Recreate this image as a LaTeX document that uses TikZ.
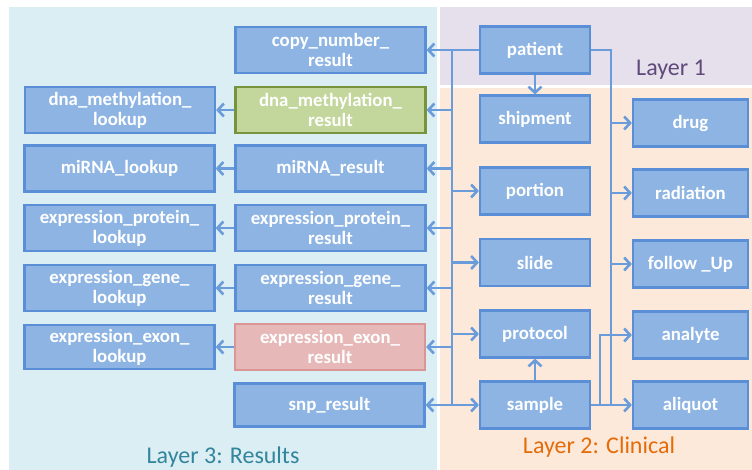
\documentclass[tikz,border=0pt]{standalone}
\usepackage{fontspec}
\setmainfont{Carlito}
\usetikzlibrary{arrows.meta}
\definecolor{bgthree}{HTML}{DBEEF4}
\definecolor{bgone}{HTML}{E5E0EC}
\definecolor{bgtwo}{HTML}{FDE9D9}
\definecolor{boxfill}{HTML}{8DB4E2}
\definecolor{boxline}{HTML}{5A8FD8}
\definecolor{conn}{HTML}{6A9CDC}
\definecolor{greenfill}{HTML}{C3D69B}
\definecolor{greenline}{HTML}{77933C}
\definecolor{redfill}{HTML}{E6B9B8}
\definecolor{redline}{HTML}{D99694}
\definecolor{txtone}{HTML}{5F497A}
\definecolor{txttwo}{HTML}{E46C0A}
\definecolor{txtthree}{HTML}{31859C}
\tikzset{
  tbl/.style={draw=boxline, fill=boxfill, line width=2.2pt, text=white,
    font=\bfseries\fontsize{18.8}{20}\selectfont, align=center, inner sep=0pt,
    minimum width=190pt, minimum height=46pt},
  clin/.style={tbl, minimum width=110pt, minimum height=47pt},
  ext/.style={tbl, minimum width=115pt, minimum height=47pt},
  greenbox/.style={draw=greenline, fill=greenfill},
  redbox/.style={draw=redline, fill=redfill},
  conline/.style={draw=conn, line width=2.6pt},
  arr/.style={conline, -{Straight Barb[length=6pt,width=13pt,line width=2.6pt]}},
  layerlabel/.style={font=\fontsize{24}{26}\selectfont, inner sep=0pt}
}
\begin{document}
\begin{tikzpicture}[x=1pt,y=-1pt]
\useasboundingbox (0,0) rectangle (752,470);
\fill[white] (0,0) rectangle (752,470);
\fill[bgthree] (9,7) rectangle (437,470);
\fill[bgone] (440,7) rectangle (752,85);
\fill[bgtwo] (440,88) rectangle (752,470);

\node[layerlabel, text=txtone] (l1) at (671,70) {Layer 1};
\node[layerlabel, text=txttwo] (l2) at (599,447) {Layer 2: Clinical};
\node[layerlabel, text=txtthree] (l3) at (223,457) {Layer 3: Results};

% results column
\node[tbl] (copyres) at (330.5,50) {copy\_number\_\\result};
\node[tbl, greenbox] (dnares) at (330.5,110) {dna\_methylation\_\\result};
\node[tbl] (mirnares) at (330.5,168.5) {miRNA\_result};
\node[tbl] (protres) at (330.5,228) {expression\_protein\_\\result};
\node[tbl] (generes) at (330.5,288) {expression\_gene\_\\result};
\node[tbl, redbox] (exonres) at (330,347) {expression\_exon\_\\result};
\node[tbl, minimum height=43pt] (snpres) at (329.5,405) {snp\_result};

% lookup column
\node[tbl] (dnalook) at (120,110) {dna\_methylation\_\\lookup};
\node[tbl] (mirnalook) at (119.5,168.5) {miRNA\_lookup};
\node[tbl] (protlook) at (119.5,228) {expression\_protein\_\\lookup};
\node[tbl] (genelook) at (119.5,288) {expression\_gene\_\\lookup};
\node[tbl, minimum height=44pt] (exonlook) at (119.5,347) {expression\_exon\_\\lookup};

% clinical
\node[clin] (patient) at (535,50) {patient};
\node[clin] (shipment) at (535,119) {shipment};
\node[clin] (portion) at (535,191) {portion};
\node[clin] (slide) at (535,262.5) {slide};
\node[clin] (protocol) at (535,334) {protocol};
\node[clin] (sample) at (535,405) {sample};

\node[ext] (drug) at (690.5,123) {drug};
\node[ext] (radiation) at (690.5,193) {radiation};
\node[ext] (followup) at (690.5,264) {follow \_Up};
\node[ext] (analyte) at (690.5,335) {analyte};
\node[ext] (aliquot) at (690.5,405) {aliquot};

% result -> lookup
\draw[arr] (dnares.west) -- (dnalook.east);
\draw[arr] (mirnares.west) -- (mirnalook.east);
\draw[arr] (protres.west) -- (protlook.east);
\draw[arr] (generes.west) -- (genelook.east);
\draw[arr] (exonres.west) -- (exonlook.east);

% buses
\coordinate (busL) at (452,50);
\coordinate (busR) at (611,50);
\coordinate (sfork) at (600,405);

\draw[conline] (busL) -- (busL |- sample);
\draw[arr] (patient.west) -- (copyres.east);
\draw[arr] (busL |- dnares) -- (dnares.east);
\draw[arr] (busL |- mirnares) -- (mirnares.east);
\draw[arr] (busL |- protres) -- (protres.east);
\draw[arr] (busL |- generes) -- (generes.east);
\draw[arr] (busL |- exonres) -- (exonres.east);
\draw[arr] (busL |- snpres) -- (snpres.east);
\draw[arr] (busL |- portion) -- (portion.west);
\draw[arr] (busL |- slide) -- (slide.west);
\draw[arr] (busL |- protocol) -- (protocol.west);
\draw[arr] (busL |- sample) -- (sample.west);

\draw[conline] (patient.east) -- (busR) -- (busR |- sample);
\draw[arr] (busR |- drug) -- (drug.west);
\draw[arr] (busR |- radiation) -- (radiation.west);
\draw[arr] (busR |- followup) -- (followup.west);
\draw[arr] (sample.east) -- (aliquot.west);
\draw[arr] (sfork) |- (analyte.west);

\draw[arr] (patient.south) -- (shipment.north);
\draw[arr] (sample.north) -- (protocol.south);
\end{tikzpicture}
\end{document}
